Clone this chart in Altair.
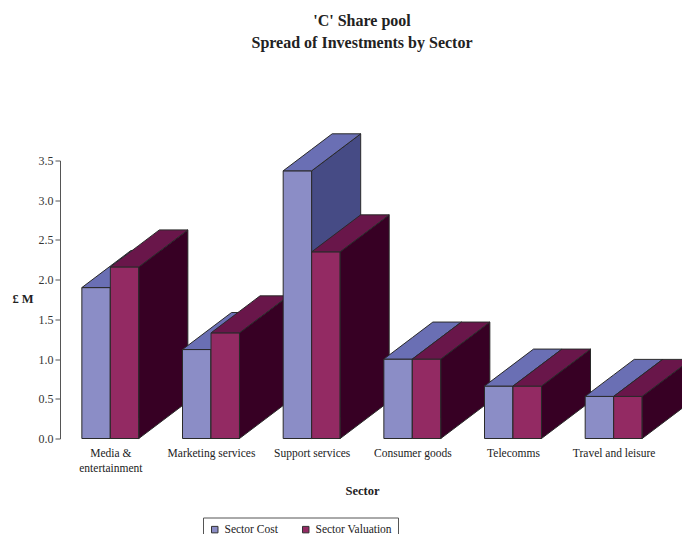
import json
import altair as alt
import pandas as pd

# ---- data ----
sector_labels = [["Media &", "entertainment"], ["Marketing services"], ["Support services"],
                 ["Consumer goods"], ["Telecomms"], ["Travel and leisure"]]
series_names = ["Sector Cost", "Sector Valuation"]
sector_cost = [1.90, 1.12, 3.37, 1.00, 0.66, 0.53]
sector_valuation = [2.16, 1.33, 2.35, 1.00, 0.66, 0.53]
y_ticks = [0.0, 0.5, 1.0, 1.5, 2.0, 2.5, 3.0, 3.5]

# ---- 3D style (depth of the extruded bars) ----
BW = 0.283   # bar width in category units
DX = 0.487   # depth offset in x (category units)
DY = 0.466   # depth offset in y (value units)

face_domain = []
face_range = []
palette = {
    "Sector Cost": ("#8B8DC6", "#6A6FB4", "#464B85"),
    "Sector Valuation": ("#932A63", "#69164A", "#370024"),
}
for s in series_names:
    f, t, sd = palette[s]
    face_domain += [s, s + " top", s + " side"]
    face_range += [f, t, sd]

rows = []
for i in range(len(sector_labels)):
    for s, vals in enumerate([sector_cost, sector_valuation]):
        v = vals[i]
        name = series_names[s]
        key = f"{i}-{s}"
        xl = i + 0.5 - BW + s * BW
        xr = xl + BW
        # front face
        rows += [dict(bar=key, face=name, x=xl, y=0, y2=v),
                 dict(bar=key, face=name, x=xr, y=0, y2=v)]
        # side face
        rows += [dict(bar=key, face=name + " side", x=xr, y=0, y2=v),
                 dict(bar=key, face=name + " side", x=xr + DX, y=DY, y2=v + DY)]
        # top face (parallelogram as piecewise-linear band)
        def lower(x):
            return v if x <= xr else v + DY * (x - xr) / DX
        def upper(x):
            return v + DY * min(x - xl, DX) / DX
        for xx in sorted([xl, xr, xl + DX, xr + DX]):
            rows.append(dict(bar=key, face=name + " top", x=xx, y=lower(xx), y2=upper(xx)))

df = pd.DataFrame(rows)

FONT = "Liberation Serif"
label_expr = json.dumps(sector_labels) + "[round(datum.value - 0.5)]"

x_enc = alt.X("x:Q", scale=alt.Scale(domain=[0, 6], nice=False, zero=False),
              axis=alt.Axis(values=[i + 0.5 for i in range(6)], labelExpr=label_expr,
                            domain=False, ticks=False, grid=False, labelPadding=9,
                            labelFont=FONT, labelFontSize=11.5, labelColor="#222",
                            labelLineHeight=15, labelBaseline="top",
                            title="Sector", titleFont=FONT, titleFontSize=12.5,
                            titleFontWeight="bold", titleColor="#222",
                            titleY=51.5, titleBaseline="middle"))
y_enc = alt.Y("y:Q", stack=None, scale=alt.Scale(domain=[0, 3.5], nice=False),
              axis=alt.Axis(values=y_ticks, format=".1f", grid=False, tickSize=5,
                            domainColor="#555", tickColor="#555", labelPadding=2,
                            labelFont=FONT, labelFontSize=12, labelColor="#333",
                            title="£ M", titleAngle=0, titleFont=FONT, titleFontSize=12.5,
                            titleFontWeight="bold", titleColor="#222",
                            titleX=-37.5, titleY=137.5, titleAlign="center",
                            titleBaseline="middle"))
fill_enc = alt.Fill("face:N", scale=alt.Scale(domain=face_domain, range=face_range),
                    legend=alt.Legend(values=series_names, orient="none", legendX=143,
                                      legendY=357, direction="horizontal", columns=2,
                                      title=None, symbolType="square", symbolSize=42,
                                      symbolStrokeColor="#333", symbolStrokeWidth=1,
                                      labelFont=FONT, labelFontSize=11.5, labelColor="#222",
                                      labelOffset=4, columnPadding=22, padding=6,
                                      strokeColor="#555"))

layers = []
for i in range(len(sector_labels)):
    for s in range(2):
        key = f"{i}-{s}"
        layers.append(
            alt.Chart().transform_filter(alt.datum.bar == key)
            .mark_area(stroke="#2a2a2a", strokeWidth=1, opacity=1, fillOpacity=1)
            .encode(x=x_enc, y=y_enc, y2="y2:Q", fill=fill_enc, detail="face:N")
        )

chart = alt.layer(*layers, data=df).properties(
    width=604, height=278,
    autosize="none",
    padding={"left": 60, "top": 160.5, "right": 18, "bottom": 95.5},
    title=alt.TitleParams(["'C' Share pool", "Spread of Investments by Sector"],
                          font=FONT, fontSize=16, fontWeight="bold", color="#222",
                          anchor="middle", frame="group", offset=81, lineHeight=22),
).configure_view(stroke=None)

chart.save("out.html", embed_options={"renderer": "svg", "actions": False})
